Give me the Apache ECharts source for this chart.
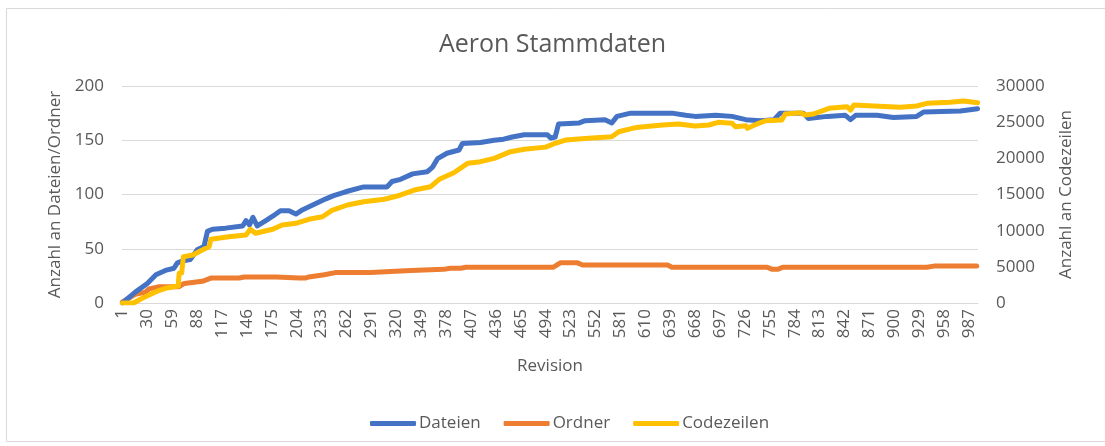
<!DOCTYPE html>
<html>
<head>
<meta charset="utf-8">
<title>Aeron Stammdaten</title>
<script src="https://cdn.jsdelivr.net/npm/echarts@6/dist/echarts.min.js"></script>
<style>
  html, body { margin: 0; padding: 0; background: #fff; }
  #chart { width: 1105px; height: 446px; }
</style>
</head>
<body>
<div id="chart"></div>
<script>
var revisionCount = 997;

var dateien = [
    [1, 0], [16, 10], [30, 18], [40, 26], [51, 30], [61, 32], [65, 37], [72, 39], [80, 40], [88, 49],
    [96, 52], [100, 66], [106, 68], [121, 69], [141, 71], [145, 76], [149, 72], [153, 79], [158, 71], [168, 76],
    [176, 80], [185, 85], [195, 85], [203, 82], [211, 86], [222, 90], [230, 93], [238, 96], [247, 99], [259, 102],
    [263, 103], [282, 107], [309, 107], [315, 112], [325, 114], [339, 119], [356, 121], [362, 125], [368, 133], [379, 138],
    [393, 141], [397, 147], [418, 148], [434, 150], [445, 151], [455, 153], [469, 155], [496, 155], [500, 152], [505, 153],
    [509, 165], [533, 166], [540, 168], [563, 169], [571, 166], [577, 172], [593, 175], [641, 175], [657, 173], [668, 172],
    [692, 173], [711, 172], [727, 169], [744, 168], [760, 169], [767, 175], [794, 175], [800, 170], [822, 172], [843, 173],
    [849, 169], [855, 173], [880, 173], [899, 171], [926, 172], [934, 176], [977, 177], [997, 179]
];

var ordner = [
    [1, 1], [16, 8], [28, 10], [32, 13], [44, 15], [67, 15], [73, 18], [94, 20], [104, 23], [137, 23],
    [143, 24], [180, 24], [207, 23], [214, 23], [218, 24], [236, 26], [249, 28], [290, 28], [313, 29], [337, 30],
    [375, 31], [383, 32], [395, 32], [401, 33], [503, 33], [511, 37], [531, 37], [537, 35], [636, 35], [641, 33],
    [752, 33], [758, 31], [764, 31], [770, 33], [938, 33], [946, 34], [996, 34], [997, 35]
];

var codezeilen = [
    [1, 0], [14, 0], [24, 650], [40, 1560], [51, 2030], [66, 2350], [67, 4100], [70, 4150], [72, 6400], [83, 6640],
    [94, 7330], [102, 7780], [104, 8800], [125, 9170], [145, 9400], [150, 10190], [156, 9640], [176, 10190], [187, 10780], [203, 11020],
    [218, 11570], [234, 11930], [245, 12800], [263, 13550], [282, 14000], [306, 14340], [321, 14790], [341, 15620], [360, 16080], [370, 17100],
    [387, 18010], [403, 19310], [418, 19540], [434, 20000], [453, 20920], [469, 21250], [494, 21550], [505, 22080], [517, 22530], [544, 22770],
    [571, 22990], [579, 23680], [595, 24150], [602, 24290], [630, 24610], [649, 24750], [668, 24470], [684, 24610], [695, 24980], [711, 24840],
    [715, 24370], [727, 24510], [729, 24150], [742, 24840], [750, 25200], [769, 25300], [773, 26130], [791, 26310], [796, 25990], [806, 26130],
    [824, 26910], [845, 27140], [849, 26680], [853, 27370], [876, 27230], [907, 27050], [926, 27230], [938, 27600], [965, 27740], [981, 27920],
    [997, 27690]
];

var revisions = [];
for (var i = 1; i <= revisionCount; i++) revisions.push(String(i));

function toPoints(list) {
    return list.map(function (p) { return [p[0] - 1, p[1]]; });
}

var textColor = '#595959';
var gridColor = '#d9d9d9';
var font = 'Open Sans';

var myChart = echarts.init(document.getElementById('chart'));

var option = {
    backgroundColor: '#fff',
    textStyle: { fontFamily: font, color: textColor },
    graphic: [{
        type: 'rect',
        shape: { x: 6.5, y: 8.5, width: 1110, height: 433 },
        style: { fill: 'none', stroke: gridColor, lineWidth: 1 },
        silent: true
    }],
    title: {
        text: 'Aeron Stammdaten',
        left: 'center',
        top: 27,
        textStyle: { fontFamily: font, fontSize: 25, fontWeight: 'normal', color: textColor }
    },
    legend: {
        left: 365,
        top: 410,
        icon: 'roundRect',
        itemWidth: 46,
        itemHeight: 5,
        itemGap: 23,
        textStyle: { fontFamily: font, fontSize: 17, color: textColor, padding: [0, 0, 0, -2] },
        data: ['Dateien', 'Ordner', 'Codezeilen']
    },
    grid: { left: 122, right: 127, top: 86, bottom: 143 },
    xAxis: {
        type: 'category',
        data: revisions,
        boundaryGap: true,
        name: 'Revision',
        nameLocation: 'middle',
        nameGap: 55,
        nameTextStyle: { fontFamily: font, fontSize: 17, color: textColor },
        axisLine: { lineStyle: { color: gridColor } },
        axisTick: { show: false },
        axisLabel: { interval: 28, rotate: 90, fontSize: 17, color: textColor, margin: 6 }
    },
    yAxis: [{
        type: 'value',
        min: 0, max: 200, interval: 50,
        name: 'Anzahl an Dateien/Ordner',
        nameLocation: 'middle',
        nameRotate: 90,
        nameGap: 56,
        nameTextStyle: { fontFamily: font, fontSize: 17, color: textColor },
        axisLine: { show: false },
        axisTick: { show: false },
        axisLabel: { fontSize: 17, color: textColor, margin: 18 },
        splitLine: { lineStyle: { color: gridColor } }
    }, {
        type: 'value',
        min: 0, max: 30000, interval: 5000,
        name: 'Anzahl an Codezeilen',
        nameLocation: 'middle',
        nameRotate: 90,
        nameGap: 80,
        nameTextStyle: { fontFamily: font, fontSize: 17, color: textColor },
        axisLine: { show: false },
        axisTick: { show: false },
        axisLabel: {
            fontSize: 17, color: textColor, margin: 18,
            formatter: function (v) { return String(v); }
        },
        splitLine: { show: false }
    }],
    series: [{
        name: 'Dateien',
        type: 'line',
        yAxisIndex: 0,
        symbol: 'none',
        color: '#4472C4',
        lineStyle: { width: 5, color: '#4472C4', cap: 'round', join: 'round' },
        data: toPoints(dateien),
        z: 3
    }, {
        name: 'Ordner',
        type: 'line',
        yAxisIndex: 0,
        symbol: 'none',
        color: '#ED7D31',
        lineStyle: { width: 5, color: '#ED7D31', cap: 'round', join: 'round' },
        data: toPoints(ordner),
        z: 2
    }, {
        name: 'Codezeilen',
        type: 'line',
        yAxisIndex: 1,
        symbol: 'none',
        color: '#FFC000',
        lineStyle: { width: 5, color: '#FFC000', cap: 'round', join: 'round' },
        data: toPoints(codezeilen),
        z: 4
    }]
};

myChart.setOption(option, true);
</script>
</body>
</html>
